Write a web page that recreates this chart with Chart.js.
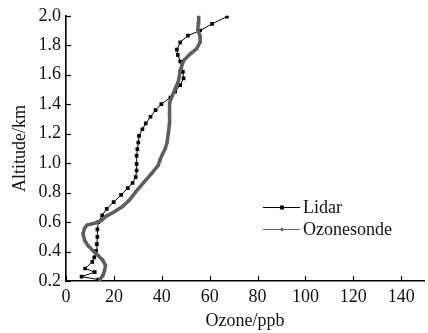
<!DOCTYPE html>
<html>
<head>
<meta charset="utf-8">
<script src="https://cdn.jsdelivr.net/npm/chart.js@4.4.0/dist/chart.umd.min.js"></script>
<style>
  html, body { margin: 0; padding: 0; background: #fff; }
  #wrap { width: 428px; height: 333px; position: relative; }
</style>
</head>
<body>
<div id="wrap"><canvas id="chart"></canvas></div>
<script>
// Lidar profile (ozone ppb, altitude km)
const lidarAlt = [0.21, 0.23, 0.26, 0.285, 0.33, 0.36, 0.405, 0.45, 0.5, 0.55, 0.6, 0.645, 0.69, 0.735, 0.785, 0.83, 0.865, 0.905, 0.95, 0.995, 1.05, 1.095, 1.14, 1.185, 1.23, 1.27, 1.315, 1.36, 1.4, 1.445, 1.485, 1.53, 1.575, 1.62, 1.69, 1.735, 1.77, 1.82, 1.865, 1.9, 1.945, 1.995];
const lidarO3 = [13.5, 6.5, 12, 8, 11, 11.8, 12.6, 12.9, 13.1, 13.1, 13.5, 15.1, 17, 19.9, 23, 25.8, 27.8, 29.1, 29.5, 29.5, 29.5, 29.8, 30.2, 30.5, 31.9, 33.3, 35.3, 37.4, 39.8, 43.6, 45.6, 47.7, 49.1, 48.8, 47.7, 46.7, 46.3, 47.7, 50.9, 56, 61, 67.2];

// Ozonesonde profile
const sondeAlt = [0.21, 0.24, 0.27, 0.305, 0.34, 0.375, 0.405, 0.44, 0.475, 0.52, 0.56, 0.58, 0.595, 0.61, 0.64, 0.67, 0.705, 0.75, 0.805, 0.87, 0.93, 0.985, 1.02, 1.05, 1.1, 1.14, 1.21, 1.27, 1.34, 1.41, 1.45, 1.505, 1.56, 1.63, 1.695, 1.74, 1.775, 1.82, 1.86, 1.905, 1.95, 1.995];
const sondeO3 = [14.2, 15.5, 16.1, 16.5, 15.4, 13.3, 11.3, 9.2, 7.8, 7.1, 7.8, 8.8, 12.6, 14.7, 16.8, 20.2, 23.6, 26.5, 29.1, 32.5, 35.8, 38.5, 39.2, 40, 41.5, 42.2, 42.8, 43.2, 43.2, 43.3, 44.2, 45.6, 47, 47.7, 49.1, 51.8, 54.5, 56, 56, 55, 55.3, 55.4];

const xTicks = [0, 20, 40, 60, 80, 100, 120, 140];
const yTicks = [0.2, 0.4, 0.6, 0.8, 1.0, 1.2, 1.4, 1.6, 1.8, 2.0];

const fonte = 'Liberation Serif';

function pares(xs, ys) {
    return xs.map(function(v, i) { return { x: v, y: ys[i] }; });
}

// tick marks pointing into the plot, like the original
const ticksDentro = {
    id: 'ticksDentro',
    afterDraw: function(chart) {
        const ctx = chart.ctx;
        const sx = chart.scales.x, sy = chart.scales.y;
        const a = chart.chartArea;
        ctx.save();
        ctx.strokeStyle = '#000';
        ctx.lineWidth = 1.2;
        xTicks.forEach(function(v) {
            const px = Math.round(sx.getPixelForValue(v)) + 0.5;
            ctx.beginPath();
            ctx.moveTo(px, a.bottom);
            ctx.lineTo(px, a.bottom - 5);
            ctx.stroke();
        });
        yTicks.forEach(function(v) {
            const py = Math.round(sy.getPixelForValue(v)) + 0.5;
            ctx.beginPath();
            ctx.moveTo(a.left, py);
            ctx.lineTo(a.left + 5, py);
            ctx.stroke();
        });
        ctx.restore();
    }
};

// legend drawn inside the plot
const legendaDentro = {
    id: 'legendaDentro',
    afterDraw: function(chart) {
        const ctx = chart.ctx;
        const itens = [
            { texto: 'Lidar', cor: '#000', y: 207, forma: 'rect', r: 2.2 },
            { texto: 'Ozonesonde', cor: '#666', y: 229, forma: 'circle', r: 1.3 }
        ];
        ctx.save();
        itens.forEach(function(it) {
            ctx.strokeStyle = it.cor;
            ctx.lineWidth = 1;
            ctx.beginPath();
            ctx.moveTo(263, it.y + 0.5);
            ctx.lineTo(300, it.y + 0.5);
            ctx.stroke();
            ctx.fillStyle = it.cor;
            Chart.helpers.drawPoint(ctx, { pointStyle: it.forma, radius: it.r, borderWidth: 1 }, 282, it.y + 0.5);
            ctx.fill();
            ctx.fillStyle = '#111';
            ctx.font = '18px "' + fonte + '"';
            ctx.textBaseline = 'middle';
            ctx.textAlign = 'left';
            ctx.fillText(it.texto, 303, it.y + 1);
        });
        ctx.restore();
    }
};

const ctx = document.getElementById('chart').getContext('2d');
const chart = new Chart(ctx, {
    type: 'scatter',
    data: {
        datasets: [
            {
                label: 'Ozonesonde',
                data: pares(sondeO3, sondeAlt),
                showLine: true,
                borderColor: '#5e5e5e',
                backgroundColor: '#5e5e5e',
                borderWidth: 3.5,
                pointRadius: 1.8,
                pointStyle: 'circle',
                pointBorderWidth: 0
            },
            {
                label: 'Lidar',
                data: pares(lidarO3, lidarAlt),
                showLine: true,
                borderColor: '#000',
                backgroundColor: '#000',
                borderWidth: 1,
                pointRadius: 2.6,
                pointStyle: 'rect',
                pointBorderWidth: 0
            }
        ]
    },
    options: {
        responsive: true,
        maintainAspectRatio: false,
        animation: false,
        layout: { padding: { top: 11, right: 0, left: 0, bottom: 0 } },
        plugins: {
            legend: { display: false },
            tooltip: { enabled: false }
        },
        scales: {
            x: {
                type: 'linear',
                min: 0,
                max: 149.5,
                afterBuildTicks: function(s) { s.ticks = xTicks.map(function(v) { return { value: v }; }); },
                afterFit: function(s) { s.height = 52; },
                grid: { display: true, drawOnChartArea: false, drawTicks: false },
                border: { display: true, color: '#000', width: 1.6 },
                ticks: {
                    color: '#111',
                    padding: 5,
                    maxRotation: 0,
                    autoSkip: false,
                    font: { family: fonte, size: 18 }
                },
                title: {
                    display: true,
                    text: 'Ozone/ppb',
                    color: '#111',
                    font: { family: fonte, size: 18 },
                    padding: { top: 0, bottom: 1 }
                }
            },
            y: {
                type: 'linear',
                min: 0.2,
                max: 2.0,
                afterBuildTicks: function(s) { s.ticks = yTicks.map(function(v) { return { value: v }; }); },
                afterFit: function(s) { s.width = 66; },
                grid: { display: true, drawOnChartArea: false, drawTicks: false },
                border: { display: true, color: '#000', width: 1.6 },
                ticks: {
                    color: '#111',
                    padding: 5,
                    autoSkip: false,
                    font: { family: fonte, size: 18 },
                    callback: function(v) { return Number(v).toFixed(1); }
                },
                title: {
                    display: true,
                    text: 'Altitude/km',
                    color: '#111',
                    font: { family: fonte, size: 18 },
                    padding: { top: 9, bottom: 0 }
                }
            }
        }
    },
    plugins: [ticksDentro, legendaDentro]
});
</script>
</body>
</html>
